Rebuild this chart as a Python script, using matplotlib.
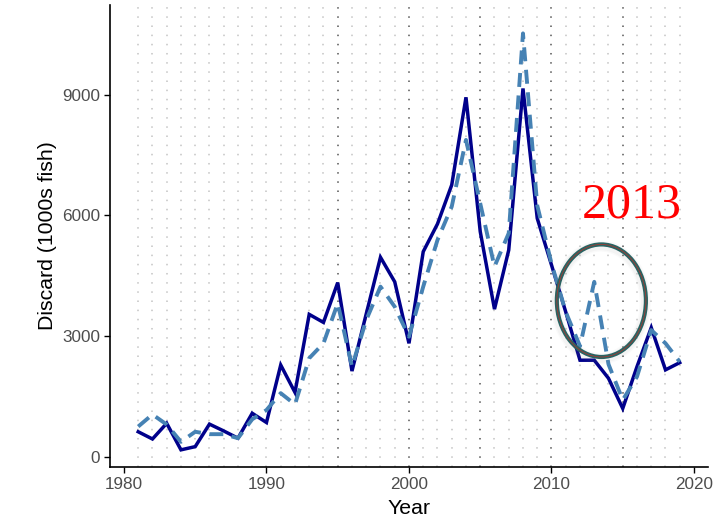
import numpy as np
import matplotlib.pyplot as plt
from matplotlib.patches import Ellipse

# annual discard estimates, 1000s of fish
years = list(range(1981, 2020))
discard_obs = [620, 440, 830, 170, 250, 810, 640, 460, 1080, 850,
               2280, 1600, 3540, 3340, 4330, 2130, 3550, 4960, 4350, 2820,
               5100, 5790, 6760, 8940, 5600, 3670, 5140, 9160, 5930, 4770,
               3600, 2400, 2400, 1950, 1200, 2240, 3210, 2160, 2340]
discard_est = [750, 1050, 800, 370, 620, 560, 560, 460, 930, 1160,
               1580, 1300, 2450, 2820, 3815, 2240, 3400, 4230, 3730, 2985,
               4230, 5390, 6220, 7880, 6300, 4730, 5560, 10530, 6250, 4810,
               3600, 2750, 4350, 2300, 1410, 1990, 3150, 2820, 2360]
dark_years = [1995, 2000, 2005, 2010, 2015]
x_ticks = [1980, 1990, 2000, 2010, 2020]
y_ticks = [0, 3000, 6000, 9000]
note_text = "2013"

plt.rcParams['font.family'] = ['Liberation Sans', 'DejaVu Sans']

fig = plt.figure(figsize=(7.17, 5.27), dpi=100)
ax = fig.add_axes([0.1534, 0.1139, 0.8340, 0.8766])

# dotted year guides
for yr in years:
    dark = yr in dark_years
    ax.axvline(yr, color='#555555' if dark else '#c4c4c4',
               lw=1.1, linestyle=(0, (1, 5)), zorder=1)

ax.plot(years, discard_obs, color='#00008b', lw=2.5, zorder=3,
        solid_joinstyle='miter')
ax.plot(years, discard_est, color='#4682b4', lw=2.8,
        linestyle=(0, (3.6, 2.2)), zorder=4)

# highlight around 2013
cx, cy, w, h = 2013.5, 3880, 6.25, 2800
for k, a in zip([8, 6], [0.04, 0.06]):
    ax.add_patch(Ellipse((cx - 0.05, cy - 40), w, h, fill=False,
                         ec='#888888', lw=k, alpha=a, zorder=5))
ax.add_patch(Ellipse((cx, cy), w, h, fill=False, ec='#2a6362', lw=3.0, zorder=6))
ax.add_patch(Ellipse((cx, cy), w, h, fill=False, ec='#b5332a', lw=0.5, zorder=7))
ax.text(2015.65, 6260, note_text, color='#ff0000', fontsize=36,
        family=['Liberation Serif', 'DejaVu Serif'], ha='center', va='center',
        zorder=8)

ax.set_xlim(1979.02, 2020.98)
ax.set_ylim(-256, 11236)
ax.set_xticks(x_ticks)
ax.set_yticks(y_ticks)
ax.tick_params(axis='both', colors='#000000', labelcolor='#4d4d4d',
               labelsize=12.3, length=4, width=1, pad=3)

for side in ['top', 'right']:
    ax.spines[side].set_visible(False)
for side in ['left', 'bottom']:
    ax.spines[side].set_linewidth(1.2)

ax.set_xlabel('Year', fontsize=15.3, labelpad=5)
ax.set_ylabel('Discard (1000s fish)', fontsize=15.3, labelpad=4)

fig.savefig('out.png', dpi=100)
